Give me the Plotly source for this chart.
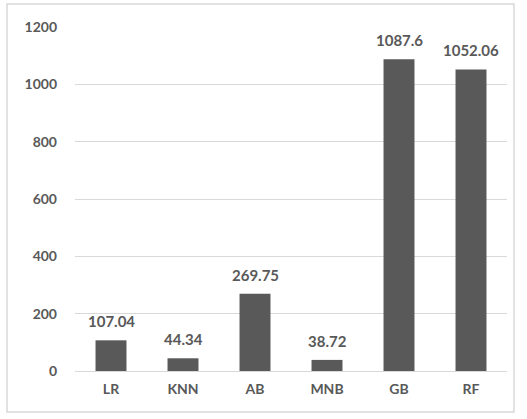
import plotly.graph_objects as go

models = ["LR", "KNN", "AB", "MNB", "GB", "RF"]
values = [107.04, 44.34, 269.75, 38.72, 1087.6, 1052.06]
labels = ["107.04", "44.34", "269.75", "38.72", "1087.6", "1052.06"]
y_ticks = [0, 200, 400, 600, 800, 1000, 1200]

W, H = 527, 419
L, R, T, B = 75, 20, 27, 48
pw, ph = W - L - R, H - T - B
GREY = "#595959"

fig = go.Figure(go.Bar(
    x=models, y=values,
    marker=dict(color=GREY, line=dict(width=0)),
    width=0.43,
))

# value labels above each bar
for m, v, t in zip(models, values, labels):
    fig.add_annotation(x=m, y=v, text=t, showarrow=False,
                       yanchor="bottom", yshift=8,
                       font=dict(family="Lato", size=15, color=GREY, weight="bold"))

def px_x(x):
    return (x - L) / pw

def px_y(y):
    return (H - B - y) / ph

fig.update_layout(
    width=W, height=H,
    margin=dict(l=L, r=R, t=T, b=B),
    paper_bgcolor="white", plot_bgcolor="white",
    showlegend=False,
    font=dict(family="Lato", color=GREY),
    xaxis=dict(showgrid=False, showline=False, ticks="",
               tickfont=dict(family="Lato", size=14, color=GREY, weight="bold"),
               ticklabelstandoff=8),
    yaxis=dict(range=[0, 1200], tickvals=y_ticks, showgrid=True,
               gridcolor="#d9d9d9", gridwidth=1, zeroline=True,
               zerolinecolor="#d9d9d9", zerolinewidth=1, showline=False,
               ticks="", ticklabelstandoff=17,
               tickfont=dict(family="Lato", size=14, color=GREY, weight="bold")),
    shapes=[dict(type="rect", xref="paper", yref="paper",
                 x0=px_x(7), x1=px_x(514), y0=px_y(412), y1=px_y(4),
                 line=dict(color="#d9d9d9", width=1.5), layer="below")],
)

fig.write_html("out.html")
